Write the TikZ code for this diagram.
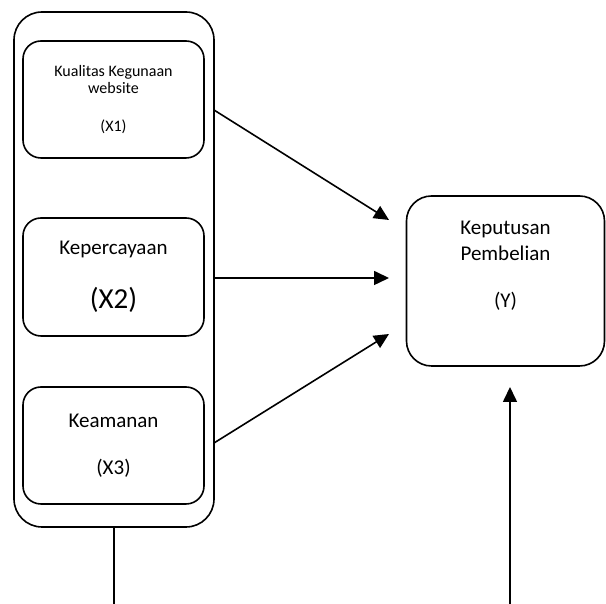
\documentclass[tikz,border=0pt]{standalone}
\usepackage{fontspec}
\setmainfont{Carlito}
\usepackage{tikz}
\usetikzlibrary{arrows.meta,positioning,calc}

\begin{document}
\begin{tikzpicture}[
    x=1pt, y=1pt,
    group/.style={rectangle, draw, line width=1.6pt, rounded corners=28pt},
    var/.style={rectangle, draw, line width=1.6pt, rounded corners=18pt, align=center, inner sep=0pt},
    arrow/.style={-{Triangle[length=15pt, width=14pt]}, line width=1.6pt}
  ]
    \useasboundingbox (0,0) rectangle (606,604);
    \node[group, minimum width=200pt, minimum height=515pt] (g) at (114,334.5) {};
    \node[var, minimum width=181pt, minimum height=117pt, font=\fontsize{16}{17}\selectfont] (x1) at (113.5,504.5) {Kualitas Kegunaan\\website\\[21pt](X1)};
    \node[var, minimum width=181pt, minimum height=118pt, font=\fontsize{21}{26}\selectfont] (x2) at (113.5,327) {Kepercayaan\\[28pt]{\fontsize{29}{35}\selectfont(X2)}};
    \node[var, minimum width=181pt, minimum height=117pt, font=\fontsize{21}{26}\selectfont] (x3) at (113.5,158.5) {Keamanan\\[21pt](X3)};
    \node[var, rounded corners=25pt, minimum width=198pt, minimum height=170pt, text depth=33pt, font=\fontsize{21}{26}\selectfont] (y) at (505.5,323) {Keputusan\\Pembelian\\[21pt](Y)};
    \coordinate (s1) at (214,494);
    \coordinate (s2) at (214,326);
    \coordinate (s3) at (214,161);
    \coordinate (e1) at (389,384);
    \coordinate (e2) at (389,326);
    \coordinate (e3) at (389,270);
    \coordinate (b1) at (114,0);
    \coordinate (b2) at (510,0);
    \coordinate (e4) at (510,217);
    \draw[arrow] (s1) -- (e1);
    \draw[arrow] (s2) -- (e2);
    \draw[arrow] (s3) -- (e3);
    \draw[line width=1.6pt] (g.south) -- (b1);
    \draw[arrow] (b2) -- (e4);
  \end{tikzpicture}
\end{document}
